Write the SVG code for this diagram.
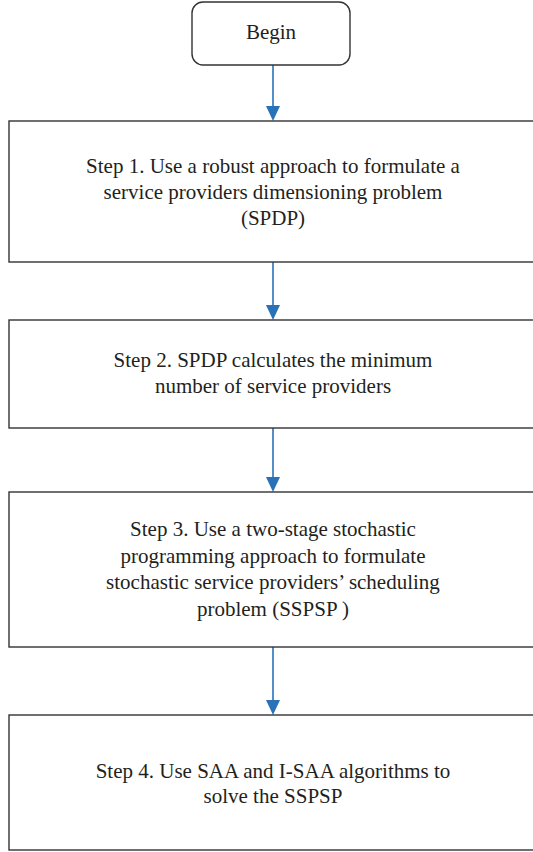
<svg xmlns="http://www.w3.org/2000/svg" width="533" height="852" viewBox="0 0 533 852">
<style>
.box{fill:#fff;stroke:#333;stroke-width:1.4}
.t{font-family:'Liberation Serif',serif;font-size:21px;fill:#231f20;text-anchor:middle}
.c{stroke:#2a72b8;stroke-width:1.6;fill:none}
.h{fill:#2a72b8}
</style>
<rect width="533" height="852" fill="#fff"/>
<g id="connectors">
<line class="c" x1="273" y1="65" x2="273" y2="107"/>
<polygon class="h" points="266,106 280,106 273,121"/>
<line class="c" x1="273" y1="262" x2="273" y2="306"/>
<polygon class="h" points="266,305 280,305 273,320"/>
<line class="c" x1="273" y1="428" x2="273" y2="478"/>
<polygon class="h" points="266,477 280,477 273,492"/>
<line class="c" x1="273" y1="647" x2="273" y2="701"/>
<polygon class="h" points="266,700 280,700 273,715"/>
</g>
<g id="begin">
<rect class="box" x="192" y="2" width="158" height="63" rx="11"/>
<text class="t" x="271" y="39" style="font-family:'Liberation Serif',serif">Begin</text>
</g>
<g id="step1">
<rect class="box" x="9" y="121" width="540" height="141"/>
<text class="t" x="273" y="173" style="font-family:'Liberation Serif',serif">Step 1. Use a robust approach to formulate a</text>
<text class="t" x="273" y="199" style="font-family:'Liberation Serif',serif">service providers dimensioning problem</text>
<text class="t" x="273" y="225" style="font-family:'Liberation Serif',serif">(SPDP)</text>
</g>
<g id="step2">
<rect class="box" x="9" y="320" width="540" height="108"/>
<text class="t" x="273" y="367" style="font-family:'Liberation Serif',serif">Step 2. SPDP calculates the minimum</text>
<text class="t" x="273" y="393" style="font-family:'Liberation Serif',serif">number of service providers</text>
</g>
<g id="step3">
<rect class="box" x="9" y="492" width="540" height="155"/>
<text class="t" x="273" y="536" style="font-family:'Liberation Serif',serif">Step 3. Use a two-stage stochastic</text>
<text class="t" x="273" y="563" style="font-family:'Liberation Serif',serif">programming approach to formulate</text>
<text class="t" x="273" y="589" style="font-family:'Liberation Serif',serif">stochastic service providers’ scheduling</text>
<text class="t" x="273" y="616" style="font-family:'Liberation Serif',serif">problem (SSPSP )</text>
</g>
<g id="step4">
<rect class="box" x="9" y="715" width="540" height="135"/>
<text class="t" x="273" y="778" style="font-family:'Liberation Serif',serif">Step 4. Use SAA and I-SAA algorithms to</text>
<text class="t" x="273" y="803" style="font-family:'Liberation Serif',serif">solve the SSPSP</text>
</g>
</svg>
